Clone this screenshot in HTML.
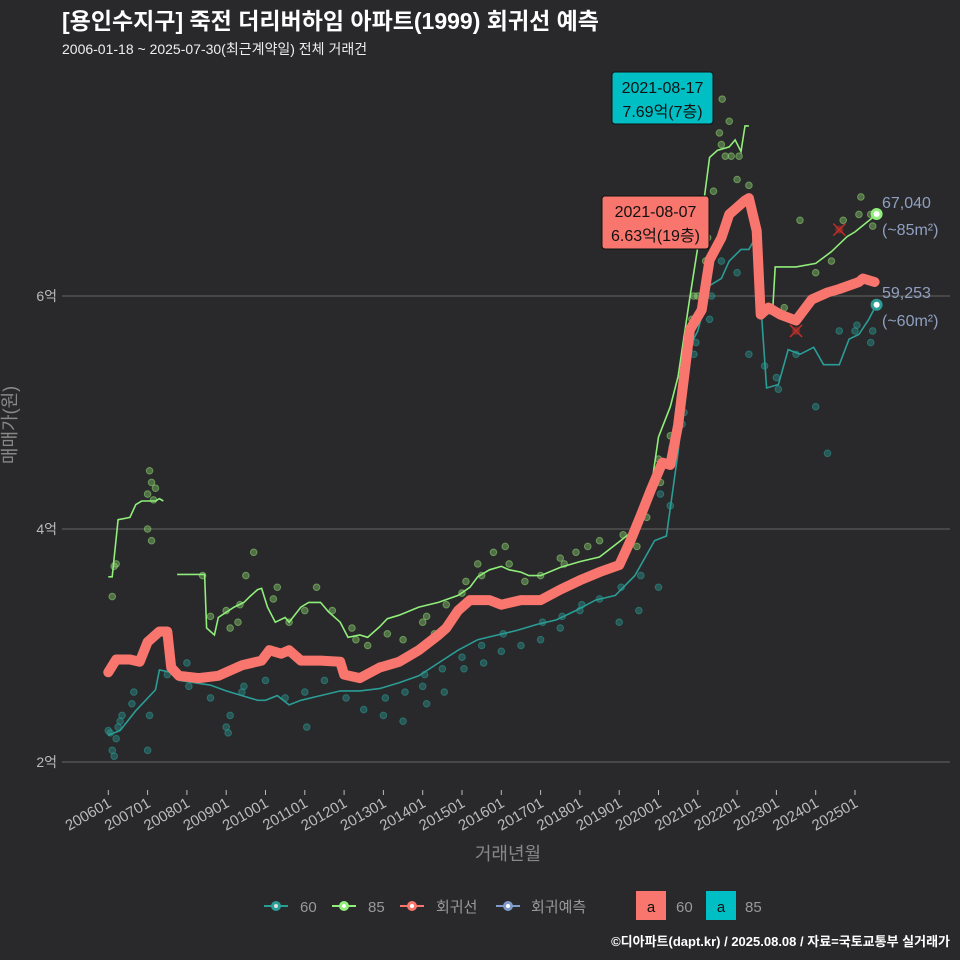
<!DOCTYPE html>
<html><head><meta charset="utf-8">
<style>
body{margin:0;background:#29282a;}
svg{display:block;font-family:"Liberation Sans","Noto Sans CJK KR",sans-serif;}
</style></head>
<body>
<svg id="c" width="960" height="960" viewBox="0 0 960 960">
<rect width="960" height="960" fill="#29282a"/>
<text x="62" y="29" fill="#fff" font-size="23" font-weight="bold">[용인수지구] 죽전 더리버하임 아파트(1999) 회귀선 예측</text>
<text x="62" y="54" fill="#eee" font-size="14">2006-01-18 ~ 2025-07-30(최근계약일) 전체 거래건</text>
<g id="grid"></g>
<g id="pts"></g>
<g id="lines"></g>
<g id="ann"></g>
<text x="16" y="425" fill="#888" font-size="18" transform="rotate(-90 16 425)" text-anchor="middle">매매가(원)</text>
<text x="508" y="860" fill="#888" font-size="18" text-anchor="middle">거래년월</text>
<g font-size="15" fill="#999">
 <g><line x1="264" y1="906" x2="288" y2="906" stroke="#2a9d96" stroke-width="2"/><circle cx="276" cy="906" r="5" fill="#2a9d96"/><circle cx="276" cy="906" r="2" fill="#ddd"/><text x="300" y="912">60</text></g>
 <g><line x1="332" y1="906" x2="356" y2="906" stroke="#90ee7a" stroke-width="2"/><circle cx="344" cy="906" r="5" fill="#90ee7a"/><circle cx="344" cy="906" r="2" fill="#fff"/><text x="368" y="912">85</text></g>
 <g><line x1="400" y1="906" x2="424" y2="906" stroke="#f8766d" stroke-width="2"/><circle cx="412" cy="906" r="5" fill="#f8766d"/><circle cx="412" cy="906" r="2" fill="#fff"/><text x="436" y="912">회귀선</text></g>
 <g><line x1="496" y1="906" x2="520" y2="906" stroke="#7f9cc8" stroke-width="2"/><circle cx="508" cy="906" r="5" fill="#7f9cc8"/><circle cx="508" cy="906" r="2" fill="#fff"/><text x="531" y="912">회귀예측</text></g>
 <rect x="636" y="891" width="30" height="29" fill="#f8766d"/><text x="651" y="912" fill="#111" text-anchor="middle">a</text><text x="676" y="912">60</text>
 <rect x="706" y="891" width="30" height="29" fill="#00bfc4"/><text x="721" y="912" fill="#111" text-anchor="middle">a</text><text x="745" y="912">85</text>
</g>
<text x="950" y="946" fill="#fff" font-size="13" font-weight="bold" text-anchor="end">©디아파트(dapt.kr) / 2025.08.08 / 자료=국토교통부 실거래가</text>
</svg>
<script>
const yTicks=[2,4,6];
const yTickLabels=["2억","4억","6억"];
const xTickYears=[2006,2007,2008,2009,2010,2011,2012,2013,2014,2015,2016,2017,2018,2019,2020,2021,2022,2023,2024,2025];
const xTickLabels=["200601","200701","200801","200901","201001","201101","201201","201301","201401","201501","201601","201701","201801","201901","202001","202101","202201","202301","202401","202501"];
const regT=[2006.0,2006.2,2006.55,2006.8,2007.0,2007.3,2007.5,2007.6,2007.8,2008.3,2008.8,2009.4,2009.9,2010.1,2010.4,2010.6,2010.9,2011.4,2011.9,2012.0,2012.4,2012.9,2013.4,2013.9,2014.4,2014.6,2014.9,2015.2,2015.7,2016.0,2016.5,2017.0,2017.5,2018.0,2018.5,2019.0,2019.3,2019.6,2019.8,2020.1,2020.3,2020.5,2020.8,2021.1,2021.3,2021.6,2021.8,2022.2,2022.3,2022.5,2022.6,2022.8,2023.1,2023.5,2023.9,2024.3,2024.6,2025.1,2025.2,2025.5];
const regV=[2.77,2.88,2.88,2.86,3.03,3.12,3.12,2.81,2.74,2.72,2.74,2.83,2.87,2.96,2.93,2.96,2.87,2.87,2.86,2.75,2.72,2.81,2.86,2.96,3.09,3.15,3.30,3.39,3.39,3.35,3.39,3.39,3.48,3.56,3.63,3.69,3.91,4.16,4.33,4.57,4.55,4.89,5.71,5.88,6.31,6.50,6.70,6.82,6.84,6.56,5.84,5.90,5.84,5.79,5.97,6.03,6.06,6.12,6.15,6.12];
const s85aT=[2006.0,2006.1,2006.25,2006.55,2006.7,2006.85,2007.2,2007.3,2007.4];
const s85aV=[3.59,3.59,4.08,4.10,4.21,4.24,4.24,4.26,4.24];
const s85bT=[2007.75,2008.45,2008.5,2008.7,2008.8,2009.2,2009.45,2009.6,2009.8,2009.9,2010.05,2010.25,2010.5,2010.6,2010.9,2011.1,2011.4,2011.6,2011.9,2012.1,2012.4,2012.6,2012.9,2013.1,2013.4,2013.9,2014.4,2014.9,2015.2,2015.4,2015.7,2016.0,2016.2,2016.5,2016.7,2017.0,2017.5,2018.0,2018.5,2019.0,2019.3,2019.5,2019.8,2020.0,2020.3,2020.5,2020.8,2021.0,2021.3,2021.5,2021.8,2021.95,2022.1,2022.2,2022.3];
const s85bV=[3.61,3.61,3.15,3.09,3.24,3.33,3.37,3.42,3.48,3.49,3.33,3.20,3.24,3.20,3.33,3.37,3.37,3.29,3.20,3.07,3.09,3.07,3.16,3.23,3.26,3.33,3.37,3.43,3.50,3.59,3.65,3.68,3.65,3.63,3.60,3.60,3.67,3.72,3.76,3.89,3.97,4.06,4.32,4.79,5.05,5.31,5.99,6.42,7.19,7.25,7.28,7.34,7.24,7.46,7.46];
const s85cT=[2022.65,2022.9,2022.97,2023.5,2024.0,2024.4,2024.8,2025.0,2025.55];
const s85cV=[5.85,5.85,6.25,6.25,6.28,6.38,6.51,6.55,6.70];
const s60T=[2006.0,2006.3,2006.7,2006.95,2007.2,2007.3,2007.6,2007.8,2008.2,2008.6,2009.0,2009.4,2009.8,2010.0,2010.3,2010.6,2010.9,2011.4,2011.9,2012.4,2012.9,2013.4,2013.9,2014.4,2014.9,2015.4,2015.9,2016.4,2016.9,2017.4,2017.9,2018.4,2018.9,2019.4,2019.9,2020.2,2020.5,2020.8,2021.0,2021.3,2021.6,2021.8,2022.1,2022.3,2022.55,2022.6,2022.75,2023.05,2023.3,2023.6,2023.95,2024.2,2024.6,2024.85,2025.1,2025.35,2025.55];
const s60V=[2.23,2.27,2.44,2.53,2.62,2.79,2.77,2.70,2.68,2.66,2.61,2.57,2.53,2.53,2.57,2.49,2.53,2.57,2.61,2.61,2.63,2.68,2.74,2.85,2.96,3.05,3.09,3.13,3.18,3.22,3.30,3.39,3.43,3.60,3.90,3.94,4.66,5.57,5.70,6.09,6.15,6.30,6.40,6.40,6.55,5.94,5.21,5.24,5.54,5.50,5.56,5.41,5.41,5.63,5.67,5.80,5.93];
const p85T=[2006.1,2006.15,2006.2,2007.0,2007.05,2007.1,2007.15,2007.2,2007.1,2007.0,2008.4,2008.6,2009.0,2009.1,2009.3,2009.35,2009.5,2009.7,2010.2,2010.3,2010.6,2011.0,2011.3,2011.7,2012.2,2012.3,2012.6,2013.1,2013.5,2014.0,2014.1,2014.3,2014.6,2015.0,2015.1,2015.4,2015.5,2015.8,2016.1,2016.2,2016.6,2017.0,2017.5,2017.6,2017.9,2018.2,2018.5,2019.1,2019.4,2019.45,2019.7,2020.0,2020.05,2020.3,2020.35,2020.6,2020.65,2020.8,2020.85,2020.9,2021.0,2021.2,2021.25,2021.4,2021.62,2021.55,2021.6,2021.7,2021.8,2021.85,2022.0,2022.05,2022.3,2023.2,2023.6,2024.0,2024.4,2024.7,2025.1,2025.15,2025.4,2025.45];
const p85V=[3.42,3.68,3.70,4.30,4.50,4.40,4.25,4.35,3.90,4.00,3.60,3.25,3.30,3.15,3.20,3.35,3.60,3.80,3.40,3.50,3.20,3.30,3.50,3.30,3.15,3.05,3.00,3.10,3.05,3.20,3.25,3.10,3.35,3.45,3.55,3.70,3.60,3.80,3.85,3.70,3.55,3.60,3.75,3.70,3.80,3.85,3.90,3.95,4.00,3.85,4.10,4.60,4.40,4.80,4.70,5.30,5.40,5.60,5.80,6.00,6.00,6.30,6.50,6.90,7.69,7.40,7.30,7.20,7.50,7.20,7.00,7.20,6.95,5.90,6.65,6.20,6.30,6.65,6.70,6.85,6.70,6.60];
const p60T=[2006.0,2006.05,2006.1,2006.15,2006.2,2006.25,2006.3,2006.35,2006.6,2006.65,2007.0,2007.05,2007.5,2008.0,2008.05,2008.6,2009.0,2009.05,2009.1,2009.4,2009.45,2010.0,2010.5,2011.0,2011.05,2011.5,2012.0,2012.05,2012.5,2013.0,2013.05,2013.5,2013.55,2014.0,2014.05,2014.1,2014.5,2014.55,2015.0,2015.05,2015.5,2015.55,2016.0,2016.05,2016.5,2017.0,2017.05,2017.5,2017.55,2018.0,2018.05,2018.5,2019.0,2019.05,2019.5,2019.55,2020.0,2020.05,2020.3,2020.6,2020.65,2020.9,2020.95,2021.3,2021.35,2021.6,2022.0,2022.3,2022.7,2023.0,2023.05,2023.5,2024.0,2024.3,2024.6,2025.0,2025.05,2025.4,2025.45];
const p60V=[2.27,2.25,2.10,2.05,2.20,2.30,2.35,2.40,2.50,2.60,2.10,2.40,2.75,2.85,2.65,2.55,2.30,2.25,2.40,2.60,2.65,2.70,2.55,2.60,2.30,2.70,2.75,2.55,2.45,2.40,2.55,2.35,2.60,2.65,2.75,2.50,2.80,2.60,2.90,2.80,3.00,2.85,2.95,3.10,3.00,3.05,3.20,3.15,3.25,3.30,3.35,3.40,3.20,3.50,3.30,3.60,3.50,4.30,4.20,4.90,5.00,5.50,5.60,5.80,6.00,6.30,6.20,5.50,5.40,5.30,5.20,5.50,5.05,4.65,5.70,5.70,5.75,5.60,5.70];

const NS="http://www.w3.org/2000/svg";
const X=t=>108.3+(t-2006)*39.3;
const Y=v=>762-(v-2)*116.5;
function mk(tag,attrs,parent){const e=document.createElementNS(NS,tag);for(const k in attrs)e.setAttribute(k,attrs[k]);parent.appendChild(e);return e;}
const grid=document.getElementById('grid');
yTicks.forEach((v,i)=>{
 const l=mk('line',{x1:62,x2:950,y1:Y(v),y2:Y(v),stroke:'#666','stroke-width':1},grid);
 
 
 const t=mk('text',{x:57,y:Y(v)+5,fill:'#bbb','font-size':14,'text-anchor':'end'},grid);
 t.textContent=yTickLabels[i];
 
 
});
xTickYears.forEach((yr,i)=>{
 const x=X(yr);
 const l=mk('line',{x1:x,x2:x,y1:790,y2:795,stroke:'#bbb'},grid);
 
 
 const t=mk('text',{x:x+4,y:806,fill:'#bbb','font-size':15,'text-anchor':'end',transform:`rotate(-30 ${x+4} 806)`},grid);
 t.textContent=xTickLabels[i];
 
 
});
const pts=document.getElementById('pts');
p60T.forEach((t,i)=>{const c=mk('circle',{cx:X(t),cy:Y(p60V[i]),r:3.3,fill:'#2a9d96','fill-opacity':0.4,stroke:'#2a9d96','stroke-opacity':0.55},pts);
 
 });
p85T.forEach((t,i)=>{const c=mk('circle',{cx:X(t),cy:Y(p85V[i]),r:3.3,fill:'#8ed873','fill-opacity':0.4,stroke:'#8ed873','stroke-opacity':0.55},pts);
 
 });
const lines=document.getElementById('lines');
function path(T,V){return T.map((t,i)=>(i?'L':'M')+X(t).toFixed(1)+' '+Y(V[i]).toFixed(1)).join('');}
let p=mk('path',{d:path(s60T,s60V),fill:'none',stroke:'#2a9d96','stroke-width':1.6},lines);


[[s85aT,s85aV],[s85bT,s85bV],[s85cT,s85cV]].forEach(([T,V])=>{const q=mk('path',{d:path(T,V),fill:'none',stroke:'#90ee7a','stroke-width':1.6},lines);
 
 });
p=mk('path',{d:path(regT,regV),fill:'none',stroke:'#f8766d','stroke-width':10,'stroke-linejoin':'round','stroke-linecap':'round'},lines);


const ann=document.getElementById('ann');
[[2024.6,6.57],[2023.5,5.7]].forEach(([t,v])=>{const g=mk('g',{stroke:'#c0302a','stroke-width':1.5},ann);
 
 
 const x=X(t),y=Y(v);mk('line',{x1:x-6,y1:y-6,x2:x+6,y2:y+6},g);mk('line',{x1:x-6,y1:y+6,x2:x+6,y2:y-6},g);mk('circle',{cx:x,cy:y,r:4,fill:'#c0302a','fill-opacity':0.5,stroke:'none'},g);});
const endT=2025.55;
let m=mk('circle',{cx:X(endT),cy:Y(6.704),r:6,fill:'#90ee7a'},ann);
mk('circle',{cx:X(endT),cy:Y(6.704),r:3,fill:'#fff'},ann);
m=mk('circle',{cx:X(endT),cy:Y(5.9253),r:6,fill:'#2a9d96'},ann);
mk('circle',{cx:X(endT),cy:Y(5.9253),r:3,fill:'#fff'},ann);
function lab(txt,x,y,name){const t=mk('text',{x:x,y:y,fill:'#8fa0c0','font-size':16},ann);t.textContent=txt;
 
 }
lab('67,040',882,208,'end-label-85-price');lab('(~85m²)',882,235,'end-label-85-area');
lab('59,253',882,298,'end-label-60-price');lab('(~60m²)',882,326,'end-label-60-area');
function box(x,y,w,h,fill,l1,l2,name){const g=mk('g',{},ann);
 
 
 mk('rect',{x:x,y:y,width:w,height:h,rx:3,fill:fill,stroke:'#111','stroke-width':1},g);
 const a=mk('text',{x:x+w/2,y:y+21,'font-size':16,fill:'#111','text-anchor':'middle'},g);a.textContent=l1;
 const b=mk('text',{x:x+w/2,y:y+45,'font-size':16,fill:'#111','text-anchor':'middle'},g);b.textContent=l2;}
box(612,72,101,52,'#00bfc4','2021-08-17','7.69억(7층)','annotation-max-85');
box(602,196,107,53,'#f8766d','2021-08-07','6.63억(19층)','annotation-max-60');
</script>
</body></html>
